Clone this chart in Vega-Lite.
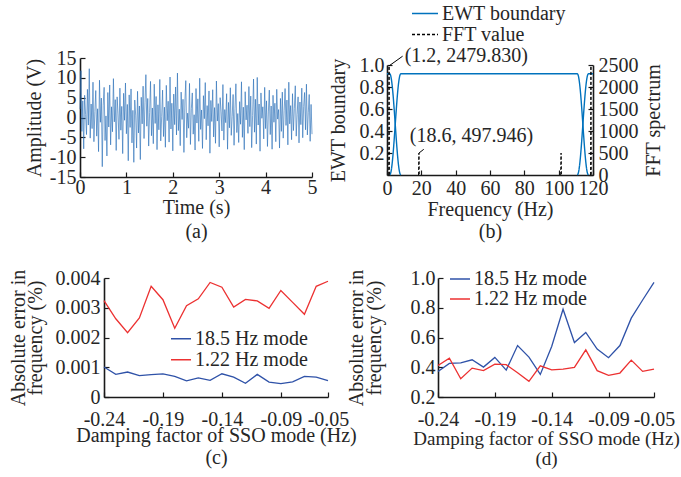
{
"$schema": "https://vega.github.io/schema/vega-lite/v6.json",
"autosize": {"type": "none"},
"padding": {"left": 80, "top": 58, "right": 601, "bottom": 419},
"background": "white",
"config": {
 "font": "Liberation Serif",
 "view": {"stroke": null},
 "axis": {"grid": false, "domainColor": "#1a1a1a", "domainWidth": 1.6, "tickColor": "#1a1a1a", "tickWidth": 1.2, "tickSize": -5, "labelFontSize": 20, "titleFontSize": 20, "titleFontWeight": "normal", "labelColor": "#262626", "titleColor": "#262626", "labelOverlap": false, "labelFlush": false, "zindex": 1},
 "legend": {"labelFontSize": 20, "labelColor": "#262626", "symbolStrokeWidth": 1.5, "padding": 0, "labelOffset": 3, "title": null},
 "locale": {"number": {"decimal": ".", "thousands": "", "grouping": [3], "currency": ["", ""], "minus": "-"}}
},
"datasets": {
 "sig": [
{"t":0.00,"v":2.1},{"t":0.02,"v":11.8},{"t":0.04,"v":-3.5},{"t":0.06,"v":4.2},{"t":0.08,"v":-7.9},{"t":0.10,"v":5.6},{"t":0.12,"v":0.8},{"t":0.14,"v":-4.3},{"t":0.16,"v":7.1},{"t":0.18,"v":-1.9},
{"t":0.20,"v":12.3},{"t":0.22,"v":-5.2},{"t":0.24,"v":3.4},{"t":0.26,"v":-2.8},{"t":0.28,"v":8.9},{"t":0.30,"v":-6.1},{"t":0.32,"v":1.5},{"t":0.34,"v":6.8},{"t":0.36,"v":-4.7},{"t":0.38,"v":2.2},
{"t":0.40,"v":-8.6},{"t":0.42,"v":9.4},{"t":0.44,"v":-1.2},{"t":0.46,"v":4.9},{"t":0.48,"v":-12.4},{"t":0.50,"v":3.1},{"t":0.52,"v":7.6},{"t":0.54,"v":-5.8},{"t":0.56,"v":0.4},{"t":0.58,"v":-9.7},
{"t":0.60,"v":6.3},{"t":0.62,"v":-2.4},{"t":0.64,"v":8.2},{"t":0.66,"v":-6.9},{"t":0.68,"v":2.7},{"t":0.70,"v":-3.6},{"t":0.72,"v":9.8},{"t":0.74,"v":-1.1},{"t":0.76,"v":4.5},{"t":0.78,"v":-8.3},
{"t":0.80,"v":5.2},{"t":0.82,"v":0.9},{"t":0.84,"v":-5.5},{"t":0.86,"v":7.4},{"t":0.88,"v":-3.2},{"t":0.90,"v":2.8},{"t":0.92,"v":-9.1},{"t":0.94,"v":6.1},{"t":0.96,"v":-0.7},{"t":0.98,"v":8.7},
{"t":1.00,"v":-4.1},{"t":1.02,"v":3.3},{"t":1.04,"v":-10.9},{"t":1.06,"v":5.7},{"t":1.08,"v":-2.5},{"t":1.10,"v":7.2},{"t":1.12,"v":-6.4},{"t":1.14,"v":1.8},{"t":1.16,"v":-11.3},{"t":1.18,"v":4.4},
{"t":1.20,"v":0.6},{"t":1.22,"v":-7.7},{"t":1.24,"v":6.6},{"t":1.26,"v":-3.9},{"t":1.28,"v":2.9},{"t":1.30,"v":-10.6},{"t":1.32,"v":5.1},{"t":1.34,"v":-1.6},{"t":1.36,"v":7.9},{"t":1.38,"v":-5.3},
{"t":1.40,"v":3.7},{"t":1.42,"v":10.8},{"t":1.44,"v":-2.2},{"t":1.46,"v":4.8},{"t":1.48,"v":-7.2},{"t":1.50,"v":1.3},{"t":1.52,"v":9.1},{"t":1.54,"v":-4.6},{"t":1.56,"v":2.4},{"t":1.58,"v":-6.6},
{"t":1.60,"v":8.4},{"t":1.62,"v":-1.5},{"t":1.64,"v":5.3},{"t":1.66,"v":-8.1},{"t":1.68,"v":3.2},{"t":1.70,"v":-3.1},{"t":1.72,"v":9.6},{"t":1.74,"v":-5.9},{"t":1.76,"v":0.2},{"t":1.78,"v":6.9},
{"t":1.80,"v":-4.8},{"t":1.82,"v":2.6},{"t":1.84,"v":-7.5},{"t":1.86,"v":8.1},{"t":1.88,"v":-0.8},{"t":1.90,"v":4.1},{"t":1.92,"v":-6.2},{"t":1.94,"v":10.2},{"t":1.96,"v":-2.9},{"t":1.98,"v":3.6},
{"t":2.00,"v":-8.4},{"t":2.02,"v":5.9},{"t":2.04,"v":-1.8},{"t":2.06,"v":7.7},{"t":2.08,"v":-4.4},{"t":2.10,"v":11.2},{"t":2.12,"v":-3.3},{"t":2.14,"v":2.1},{"t":2.16,"v":-7.1},{"t":2.18,"v":6.4},
{"t":2.20,"v":-0.5},{"t":2.22,"v":4.6},{"t":2.24,"v":-8.8},{"t":2.26,"v":3.9},{"t":2.28,"v":9.3},{"t":2.30,"v":-5.1},{"t":2.32,"v":1.1},{"t":2.34,"v":-2.7},{"t":2.36,"v":8.6},{"t":2.38,"v":-6.8},
{"t":2.40,"v":2.3},{"t":2.42,"v":6.2},{"t":2.44,"v":-4.2},{"t":2.46,"v":0.7},{"t":2.48,"v":-8.2},{"t":2.50,"v":7.3},{"t":2.52,"v":-1.4},{"t":2.54,"v":4.7},{"t":2.56,"v":-6.0},{"t":2.58,"v":9.9},
{"t":2.60,"v":-3.0},{"t":2.62,"v":1.9},{"t":2.64,"v":-7.8},{"t":2.66,"v":5.5},{"t":2.68,"v":-0.3},{"t":2.70,"v":8.8},{"t":2.72,"v":-5.6},{"t":2.74,"v":3.0},{"t":2.76,"v":-2.1},{"t":2.78,"v":6.7},
{"t":2.80,"v":-9.0},{"t":2.82,"v":4.3},{"t":2.84,"v":-1.0},{"t":2.86,"v":7.0},{"t":2.88,"v":-4.9},{"t":2.90,"v":2.5},{"t":2.92,"v":-6.5},{"t":2.94,"v":9.2},{"t":2.96,"v":-0.9},{"t":2.98,"v":3.5},
{"t":3.00,"v":-7.4},{"t":3.02,"v":5.0},{"t":3.04,"v":1.6},{"t":3.06,"v":-3.4},{"t":3.08,"v":8.3},{"t":3.10,"v":-5.7},{"t":3.12,"v":2.0},{"t":3.14,"v":-1.3},{"t":3.16,"v":6.0},{"t":3.18,"v":-8.0},
{"t":3.20,"v":3.8},{"t":3.22,"v":-2.6},{"t":3.24,"v":7.5},{"t":3.26,"v":-4.5},{"t":3.28,"v":0.3},{"t":3.30,"v":5.8},{"t":3.32,"v":-7.0},{"t":3.34,"v":2.2},{"t":3.36,"v":8.5},{"t":3.38,"v":-3.8},
{"t":3.40,"v":1.0},{"t":3.42,"v":-6.3},{"t":3.44,"v":4.0},{"t":3.46,"v":-1.7},{"t":3.48,"v":9.0},{"t":3.50,"v":-5.0},{"t":3.52,"v":2.6},{"t":3.54,"v":-8.1},{"t":3.56,"v":6.5},{"t":3.58,"v":-0.6},
{"t":3.60,"v":3.1},{"t":3.62,"v":-4.0},{"t":3.64,"v":7.8},{"t":3.66,"v":-2.3},{"t":3.68,"v":5.4},{"t":3.70,"v":-7.6},{"t":3.72,"v":0.5},{"t":3.74,"v":9.7},{"t":3.76,"v":-3.7},{"t":3.78,"v":4.6},
{"t":3.80,"v":-6.7},{"t":3.82,"v":10.1},{"t":3.84,"v":-1.9},{"t":3.86,"v":3.4},{"t":3.88,"v":-8.5},{"t":3.90,"v":6.2},{"t":3.92,"v":-0.2},{"t":3.94,"v":2.7},{"t":3.96,"v":-5.4},{"t":3.98,"v":7.6},
{"t":4.00,"v":-2.8},{"t":4.02,"v":4.2},{"t":4.04,"v":-7.3},{"t":4.06,"v":1.4},{"t":4.08,"v":6.9},{"t":4.10,"v":-4.3},{"t":4.12,"v":2.9},{"t":4.14,"v":-8.0},{"t":4.16,"v":5.6},{"t":4.18,"v":-1.2},
{"t":4.20,"v":3.6},{"t":4.22,"v":-6.1},{"t":4.24,"v":7.1},{"t":4.26,"v":-0.4},{"t":4.28,"v":2.0},{"t":4.30,"v":-7.7},{"t":4.32,"v":4.8},{"t":4.34,"v":-3.5},{"t":4.36,"v":6.4},{"t":4.38,"v":-5.2},
{"t":4.40,"v":1.7},{"t":4.42,"v":7.3},{"t":4.44,"v":-2.0},{"t":4.46,"v":4.4},{"t":4.48,"v":-6.9},{"t":4.50,"v":8.9},{"t":4.52,"v":-1.6},{"t":4.54,"v":3.0},{"t":4.56,"v":-5.6},{"t":4.58,"v":6.0},
{"t":4.60,"v":-3.3},{"t":4.62,"v":2.3},{"t":4.64,"v":8.0},{"t":4.66,"v":-4.7},{"t":4.68,"v":0.8},{"t":4.70,"v":5.2},{"t":4.72,"v":-6.4},{"t":4.74,"v":3.9},{"t":4.76,"v":-1.8},{"t":4.78,"v":7.4},
{"t":4.80,"v":-5.1},{"t":4.82,"v":2.8},{"t":4.84,"v":6.3},{"t":4.86,"v":-3.1},{"t":4.88,"v":8.4},{"t":4.90,"v":-4.4},{"t":4.92,"v":1.2},{"t":4.94,"v":5.8},{"t":4.96,"v":-6.0},{"t":4.98,"v":3.3},
{"t":5.00,"v":-4.2}
 ],
 "ewt": [
{"f":0,"e":0.92,"seg":1,"s":"EWT boundary"},{"f":1.6,"e":0.92,"seg":1,"s":"EWT boundary"},{"f":2.24,"e":0.897,"seg":1,"s":"EWT boundary"},{"f":2.88,"e":0.832,"seg":1,"s":"EWT boundary"},{"f":3.52,"e":0.731,"seg":1,"s":"EWT boundary"},{"f":4.16,"e":0.602,"seg":1,"s":"EWT boundary"},{"f":4.8,"e":0.46,"seg":1,"s":"EWT boundary"},{"f":5.44,"e":0.318,"seg":1,"s":"EWT boundary"},{"f":6.08,"e":0.189,"seg":1,"s":"EWT boundary"},{"f":6.72,"e":0.088,"seg":1,"s":"EWT boundary"},{"f":7.36,"e":0.023,"seg":1,"s":"EWT boundary"},{"f":8.0,"e":0,"seg":1,"s":"EWT boundary"},
{"f":1.6,"e":0,"seg":2,"s":"EWT boundary"},{"f":2.24,"e":0.023,"seg":2,"s":"EWT boundary"},{"f":2.88,"e":0.088,"seg":2,"s":"EWT boundary"},{"f":3.52,"e":0.189,"seg":2,"s":"EWT boundary"},{"f":4.16,"e":0.318,"seg":2,"s":"EWT boundary"},{"f":4.8,"e":0.46,"seg":2,"s":"EWT boundary"},{"f":5.44,"e":0.602,"seg":2,"s":"EWT boundary"},{"f":6.08,"e":0.731,"seg":2,"s":"EWT boundary"},{"f":6.72,"e":0.832,"seg":2,"s":"EWT boundary"},{"f":7.36,"e":0.897,"seg":2,"s":"EWT boundary"},{"f":8.0,"e":0.92,"seg":2,"s":"EWT boundary"},{"f":110.9,"e":0.92,"seg":2,"s":"EWT boundary"},{"f":111.54,"e":0.897,"seg":2,"s":"EWT boundary"},{"f":112.18,"e":0.832,"seg":2,"s":"EWT boundary"},{"f":112.82,"e":0.731,"seg":2,"s":"EWT boundary"},{"f":113.46,"e":0.602,"seg":2,"s":"EWT boundary"},{"f":114.1,"e":0.46,"seg":2,"s":"EWT boundary"},{"f":114.74,"e":0.318,"seg":2,"s":"EWT boundary"},{"f":115.38,"e":0.189,"seg":2,"s":"EWT boundary"},{"f":116.02,"e":0.088,"seg":2,"s":"EWT boundary"},{"f":116.66,"e":0.023,"seg":2,"s":"EWT boundary"},{"f":117.3,"e":0,"seg":2,"s":"EWT boundary"},
{"f":110.9,"e":0,"seg":3,"s":"EWT boundary"},{"f":111.54,"e":0.023,"seg":3,"s":"EWT boundary"},{"f":112.18,"e":0.088,"seg":3,"s":"EWT boundary"},{"f":112.82,"e":0.189,"seg":3,"s":"EWT boundary"},{"f":113.46,"e":0.318,"seg":3,"s":"EWT boundary"},{"f":114.1,"e":0.46,"seg":3,"s":"EWT boundary"},{"f":114.74,"e":0.602,"seg":3,"s":"EWT boundary"},{"f":115.38,"e":0.731,"seg":3,"s":"EWT boundary"},{"f":116.02,"e":0.832,"seg":3,"s":"EWT boundary"},{"f":116.66,"e":0.897,"seg":3,"s":"EWT boundary"},{"f":117.3,"e":0.92,"seg":3,"s":"EWT boundary"},{"f":120,"e":0.92,"seg":3,"s":"EWT boundary"}
 ],
 "fft": [
{"f":1.0,"a":0,"pk":1,"s":"FFT value"},{"f":1.2,"a":2479.83,"pk":1,"s":"FFT value"},{"f":1.4,"a":0,"pk":1,"s":"FFT value"},
{"f":18.4,"a":0,"pk":2,"s":"FFT value"},{"f":18.6,"a":497.946,"pk":2,"s":"FFT value"},{"f":18.8,"a":0,"pk":2,"s":"FFT value"},
{"f":101.2,"a":0,"pk":3,"s":"FFT value"},{"f":101.4,"a":497.946,"pk":3,"s":"FFT value"},{"f":101.6,"a":0,"pk":3,"s":"FFT value"},
{"f":118.6,"a":0,"pk":4,"s":"FFT value"},{"f":118.8,"a":2479.83,"pk":4,"s":"FFT value"},{"f":119.0,"a":0,"pk":4,"s":"FFT value"}
 ],
 "ann": [
{"x":1.2,"y":2479.83,"lx":9.1,"ly":2700,"tx":46.2,"ty":2705,"label":"(1.2, 2479.830)"},
{"x":18.6,"y":497.946,"lx":21.4,"ly":584,"tx":49.2,"ty":886,"label":"(18.6, 497.946)"}
 ],
 "c": [
{"d":-0.24,"err":0.00101,"m":"18.5 Hz mode"},{"d":-0.23,"err":0.00076,"m":"18.5 Hz mode"},{"d":-0.22,"err":0.00084,"m":"18.5 Hz mode"},{"d":-0.21,"err":0.00072,"m":"18.5 Hz mode"},{"d":-0.20,"err":0.00075,"m":"18.5 Hz mode"},{"d":-0.19,"err":0.00078,"m":"18.5 Hz mode"},{"d":-0.18,"err":0.00069,"m":"18.5 Hz mode"},{"d":-0.17,"err":0.00054,"m":"18.5 Hz mode"},{"d":-0.16,"err":0.00064,"m":"18.5 Hz mode"},{"d":-0.15,"err":0.00056,"m":"18.5 Hz mode"},{"d":-0.14,"err":0.00078,"m":"18.5 Hz mode"},{"d":-0.13,"err":0.00067,"m":"18.5 Hz mode"},{"d":-0.12,"err":0.00046,"m":"18.5 Hz mode"},{"d":-0.11,"err":0.00076,"m":"18.5 Hz mode"},{"d":-0.10,"err":0.00050,"m":"18.5 Hz mode"},{"d":-0.09,"err":0.00045,"m":"18.5 Hz mode"},{"d":-0.08,"err":0.00051,"m":"18.5 Hz mode"},{"d":-0.07,"err":0.00069,"m":"18.5 Hz mode"},{"d":-0.06,"err":0.00067,"m":"18.5 Hz mode"},{"d":-0.05,"err":0.00055,"m":"18.5 Hz mode"},
{"d":-0.24,"err":0.00324,"m":"1.22 Hz mode"},{"d":-0.23,"err":0.00263,"m":"1.22 Hz mode"},{"d":-0.22,"err":0.00216,"m":"1.22 Hz mode"},{"d":-0.21,"err":0.00266,"m":"1.22 Hz mode"},{"d":-0.20,"err":0.00372,"m":"1.22 Hz mode"},{"d":-0.19,"err":0.00327,"m":"1.22 Hz mode"},{"d":-0.18,"err":0.00231,"m":"1.22 Hz mode"},{"d":-0.17,"err":0.00307,"m":"1.22 Hz mode"},{"d":-0.16,"err":0.00330,"m":"1.22 Hz mode"},{"d":-0.15,"err":0.00385,"m":"1.22 Hz mode"},{"d":-0.14,"err":0.00369,"m":"1.22 Hz mode"},{"d":-0.13,"err":0.00302,"m":"1.22 Hz mode"},{"d":-0.12,"err":0.00328,"m":"1.22 Hz mode"},{"d":-0.11,"err":0.00323,"m":"1.22 Hz mode"},{"d":-0.10,"err":0.00298,"m":"1.22 Hz mode"},{"d":-0.09,"err":0.00358,"m":"1.22 Hz mode"},{"d":-0.08,"err":0.00318,"m":"1.22 Hz mode"},{"d":-0.07,"err":0.00278,"m":"1.22 Hz mode"},{"d":-0.06,"err":0.00372,"m":"1.22 Hz mode"},{"d":-0.05,"err":0.00389,"m":"1.22 Hz mode"}
 ],
 "d": [
{"d":-0.24,"err":0.372,"m":"18.5 Hz mode"},{"d":-0.23,"err":0.426,"m":"18.5 Hz mode"},{"d":-0.22,"err":0.430,"m":"18.5 Hz mode"},{"d":-0.21,"err":0.450,"m":"18.5 Hz mode"},{"d":-0.20,"err":0.401,"m":"18.5 Hz mode"},{"d":-0.19,"err":0.466,"m":"18.5 Hz mode"},{"d":-0.18,"err":0.381,"m":"18.5 Hz mode"},{"d":-0.17,"err":0.546,"m":"18.5 Hz mode"},{"d":-0.16,"err":0.468,"m":"18.5 Hz mode"},{"d":-0.15,"err":0.352,"m":"18.5 Hz mode"},{"d":-0.14,"err":0.540,"m":"18.5 Hz mode"},{"d":-0.13,"err":0.790,"m":"18.5 Hz mode"},{"d":-0.12,"err":0.566,"m":"18.5 Hz mode"},{"d":-0.11,"err":0.634,"m":"18.5 Hz mode"},{"d":-0.10,"err":0.522,"m":"18.5 Hz mode"},{"d":-0.09,"err":0.464,"m":"18.5 Hz mode"},{"d":-0.08,"err":0.546,"m":"18.5 Hz mode"},{"d":-0.07,"err":0.730,"m":"18.5 Hz mode"},{"d":-0.06,"err":0.852,"m":"18.5 Hz mode"},{"d":-0.05,"err":0.971,"m":"18.5 Hz mode"},
{"d":-0.24,"err":0.412,"m":"1.22 Hz mode"},{"d":-0.23,"err":0.461,"m":"1.22 Hz mode"},{"d":-0.22,"err":0.323,"m":"1.22 Hz mode"},{"d":-0.21,"err":0.394,"m":"1.22 Hz mode"},{"d":-0.20,"err":0.377,"m":"1.22 Hz mode"},{"d":-0.19,"err":0.421,"m":"1.22 Hz mode"},{"d":-0.18,"err":0.417,"m":"1.22 Hz mode"},{"d":-0.17,"err":0.363,"m":"1.22 Hz mode"},{"d":-0.16,"err":0.305,"m":"1.22 Hz mode"},{"d":-0.15,"err":0.410,"m":"1.22 Hz mode"},{"d":-0.14,"err":0.383,"m":"1.22 Hz mode"},{"d":-0.13,"err":0.388,"m":"1.22 Hz mode"},{"d":-0.12,"err":0.399,"m":"1.22 Hz mode"},{"d":-0.11,"err":0.517,"m":"1.22 Hz mode"},{"d":-0.10,"err":0.377,"m":"1.22 Hz mode"},{"d":-0.09,"err":0.345,"m":"1.22 Hz mode"},{"d":-0.08,"err":0.361,"m":"1.22 Hz mode"},{"d":-0.07,"err":0.448,"m":"1.22 Hz mode"},{"d":-0.06,"err":0.372,"m":"1.22 Hz mode"},{"d":-0.05,"err":0.388,"m":"1.22 Hz mode"}
 ]
},
"spacing": 27,
"resolve": {"scale": {"color": "independent"}, "legend": {"color": "independent"}},
"vconcat": [
 {
  "spacing": 10,
  "hconcat": [
   {
    "width": 232, "height": 119,
    "data": {"name": "sig"},
    "mark": {"type": "line", "color": "#2a70b8", "strokeWidth": 0.8, "opacity": 0.8},
    "encoding": {
     "x": {"field": "t", "type": "quantitative", "scale": {"domain": [0, 5], "nice": false},
           "axis": {"values": [0, 1, 2, 3, 4, 5], "labelOverlap": false, "title": ["Time (s)", "(a)"], "titleLineHeight": 24, "labelPadding": 5, "titlePadding": 0}},
     "y": {"field": "v", "type": "quantitative", "scale": {"domain": [-15, 15], "nice": false},
           "axis": {"values": [-15, -10, -5, 0, 5, 10, 15], "labelOverlap": false, "title": "Amplitude (V)", "labelPadding": 9, "titlePadding": 5}}
    }
   },
   {
    "bounds": "flush",
    "spacing": 6,
    "vconcat": [
     {"width": 1, "height": 1, "data": {"values": []}, "mark": "point"},
     {
      "width": 206, "height": 110,
      "resolve": {"scale": {"y": "independent"}},
      "layer": [
       {
        "data": {"name": "ewt"},
        "mark": {"type": "line", "strokeWidth": 1.4, "interpolate": "monotone"},
        "encoding": {
         "x": {"field": "f", "type": "quantitative", "scale": {"domain": [0, 120], "nice": false},
               "axis": {"values": [0, 20, 40, 60, 80, 100, 120], "labelOverlap": false, "title": ["Frequency (Hz)", "(b)"], "titleLineHeight": 22, "labelPadding": 8, "titlePadding": 1}},
         "y": {"field": "e", "type": "quantitative", "scale": {"domain": [0, 1], "nice": false},
               "axis": {"values": [0.2, 0.4, 0.6, 0.8, 1.0], "labelOverlap": false, "format": ".1f", "title": "EWT boundary", "labelPadding": 8, "titlePadding": 11}},
         "detail": {"field": "seg"},
         "stroke": {"field": "s", "type": "nominal", "scale": {"domain": ["EWT boundary", "FFT value"], "range": ["#0072BD", "#000000"]},
                    "legend": {"orient": "none", "legendX": 331, "legendY": -55, "symbolSize": 676, "clipHeight": 21, "rowPadding": 0, "title": null}},
         "strokeDash": {"field": "s", "type": "nominal", "scale": {"domain": ["EWT boundary", "FFT value"], "range": [[1, 0], [3, 2]]},
                    "legend": {"orient": "none", "legendX": 331, "legendY": -55, "symbolSize": 676, "clipHeight": 21, "rowPadding": 0, "title": null}}
        }
       },
       {
        "layer": [
         {
          "data": {"name": "fft"},
          "mark": {"type": "line", "strokeWidth": 1},
          "encoding": {
           "x": {"field": "f", "type": "quantitative",
                 "axis": {"values": [0, 20, 40, 60, 80, 100, 120], "labelOverlap": false, "title": ["Frequency (Hz)", "(b)"], "titleLineHeight": 22, "labelPadding": 8, "titlePadding": 1}},
           "y": {"field": "a", "type": "quantitative", "scale": {"domain": [0, 2500], "nice": false},
                 "axis": {"orient": "right", "values": [0, 500, 1000, 1500, 2000, 2500], "labelOverlap": false, "format": "d", "title": "FFT spectrum", "titleAngle": 270, "titleBaseline": "top", "labelPadding": 10, "titlePadding": 5}},
           "detail": {"field": "pk"},
           "stroke": {"field": "s", "type": "nominal"},
           "strokeDash": {"field": "s", "type": "nominal"}
          }
         },
         {
          "data": {"name": "ann"},
          "mark": {"type": "rule", "color": "#000000", "strokeWidth": 1},
          "encoding": {
           "x": {"field": "x", "type": "quantitative",
                 "axis": {"values": [0, 20, 40, 60, 80, 100, 120], "labelOverlap": false, "title": ["Frequency (Hz)", "(b)"], "titleLineHeight": 22, "labelPadding": 8, "titlePadding": 1}},
           "y": {"field": "y", "type": "quantitative",
                 "axis": {"orient": "right", "values": [0, 500, 1000, 1500, 2000, 2500], "labelOverlap": false, "format": "d", "title": "FFT spectrum", "titleAngle": 270, "titleBaseline": "top", "labelPadding": 10, "titlePadding": 5}},
           "x2": {"field": "lx"},
           "y2": {"field": "ly"}
          }
         },
         {
          "data": {"name": "ann"},
          "mark": {"type": "text", "fontSize": 20, "color": "#262626", "align": "center", "baseline": "middle"},
          "encoding": {
           "x": {"field": "tx", "type": "quantitative",
                 "axis": {"values": [0, 20, 40, 60, 80, 100, 120], "labelOverlap": false, "title": ["Frequency (Hz)", "(b)"], "titleLineHeight": 22, "labelPadding": 8, "titlePadding": 1}},
           "y": {"field": "ty", "type": "quantitative",
                 "axis": {"orient": "right", "values": [0, 500, 1000, 1500, 2000, 2500], "labelOverlap": false, "format": "d", "title": "FFT spectrum", "titleAngle": 270, "titleBaseline": "top", "labelPadding": 10, "titlePadding": 5}},
           "text": {"field": "label"}
          }
         }
        ]
       }
      ]
     }
    ]
   }
  ]
 },
 {
  "bounds": "flush",
  "spacing": 23,
  "hconcat": [
   {"width": 1, "height": 1, "data": {"values": []}, "mark": "point"},
   {
    "spacing": -11,
    "resolve": {"scale": {"color": "independent"}, "legend": {"color": "independent"}},
    "hconcat": [
     {
      "width": 224, "height": 119,
      "data": {"name": "c"},
      "mark": {"type": "line", "strokeWidth": 1.3},
      "encoding": {
       "x": {"field": "d", "type": "quantitative", "scale": {"domain": [-0.24, -0.05], "nice": false, "zero": false},
             "axis": {"values": [-0.24, -0.19, -0.14, -0.09, -0.05], "labelOverlap": false, "format": ".2f", "title": ["Damping factor of SSO mode (Hz)", "(c)"], "titleLineHeight": 22, "labelPadding": 17, "titlePadding": -4}},
       "y": {"field": "err", "type": "quantitative", "scale": {"domain": [0, 0.004], "nice": false},
             "axis": {"values": [0, 0.001, 0.002, 0.003, 0.004], "labelOverlap": false, "format": "~g", "title": ["Absolute error in", "frequency (%)"], "titleLineHeight": 17, "labelPadding": 9, "titlePadding": 10}},
       "color": {"field": "m", "type": "nominal", "sort": ["18.5 Hz mode", "1.22 Hz mode"], "scale": {"domain": ["18.5 Hz mode", "1.22 Hz mode"], "range": ["#2f52a8", "#ec3131"]},
                 "legend": {"orient": "none", "legendX": 66, "legendY": 51, "symbolSize": 400, "clipHeight": 19.5, "rowPadding": 0, "title": null}}
      }
     },
     {
      "width": 216, "height": 119,
      "data": {"name": "d"},
      "mark": {"type": "line", "strokeWidth": 1.3},
      "encoding": {
       "x": {"field": "d", "type": "quantitative", "scale": {"domain": [-0.24, -0.05], "nice": false, "zero": false},
             "axis": {"values": [-0.24, -0.19, -0.14, -0.09, -0.05], "labelOverlap": false, "format": ".2f", "title": ["Damping factor of SSO mode (Hz)", "(d)"], "titleFontSize": 19, "titleLineHeight": 20, "labelPadding": 17, "titlePadding": 0}},
       "y": {"field": "err", "type": "quantitative", "scale": {"domain": [0.2, 1.0], "nice": false, "zero": false},
             "axis": {"values": [0.2, 0.4, 0.6, 0.8, 1.0], "labelOverlap": false, "format": ".1f", "title": ["Absolute error in", "frequency (%)"], "titleLineHeight": 18, "labelPadding": 8, "titlePadding": 26}},
       "color": {"field": "m", "type": "nominal", "sort": ["18.5 Hz mode", "1.22 Hz mode"], "scale": {"domain": ["18.5 Hz mode", "1.22 Hz mode"], "range": ["#2f52a8", "#ec3131"]},
                 "legend": {"orient": "none", "legendX": 11, "legendY": -9, "symbolSize": 400, "clipHeight": 20, "rowPadding": 0, "title": null}}
      }
     }
    ]
   }
  ]
 }
]
}
